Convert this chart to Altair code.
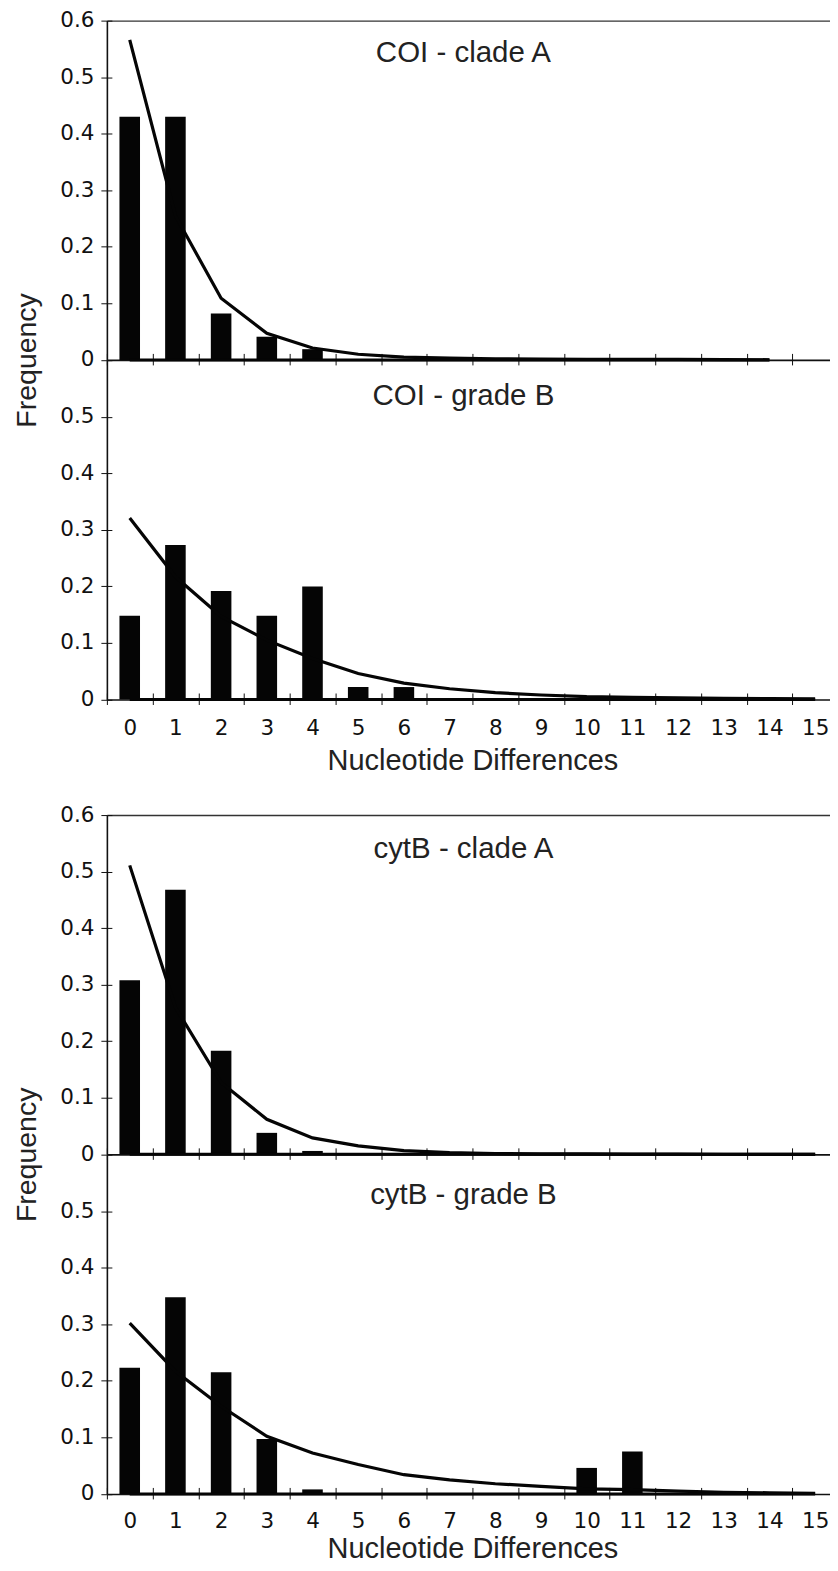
import altair as alt
import pandas as pd

cats = list(range(16))

coiA_obs = [0.43, 0.43, 0.082, 0.041, 0.019, 0, 0, 0, 0, 0, 0, 0, 0, 0, 0, 0]
coiA_exp = [0.566, 0.255, 0.109, 0.047, 0.021, 0.010, 0.005, 0.003, 0.002,
            0.0015, 0.001, 0.001, 0.0008, 0.0005, 0.0003]
coiB_obs = [0.148, 0.273, 0.192, 0.148, 0.200, 0.022, 0.022, 0, 0, 0, 0, 0, 0, 0, 0, 0]
coiB_exp = [0.321, 0.217, 0.147, 0.105, 0.0725, 0.046, 0.029, 0.019, 0.012,
            0.008, 0.005, 0.004, 0.003, 0.002, 0.0015, 0.001]
cytA_obs = [0.308, 0.468, 0.183, 0.038, 0.006, 0, 0, 0, 0, 0, 0, 0, 0, 0, 0, 0]
cytA_exp = [0.511, 0.26, 0.127, 0.062, 0.029, 0.015, 0.0065, 0.003, 0.0015,
            0.001, 0.0007, 0.0005, 0.0003, 0.0002, 0.0001, 0.0001]
cytB_obs = [0.223, 0.348, 0.215, 0.097, 0.008, 0, 0, 0, 0, 0, 0.046, 0.075, 0, 0, 0, 0]
cytB_exp = [0.302, 0.217, 0.155, 0.102, 0.0725, 0.052, 0.034, 0.025, 0.018,
            0.0135, 0.009, 0.0075, 0.005, 0.003, 0.002, 0.001]

titles = ["COI - clade A", "COI - grade B", "cytB - clade A", "cytB - grade B"]
x_title = "Nucleotide Differences"
y_title = "Frequency"

W = 732
H = 339.7
TITLE_FONT = "Liberation Sans"
LABEL_FONT = "DejaVu Sans"
INK = "#111111"


def panel(obs, exp, title, title_y, top, bottom, lab_pad=13, tit_pad=7.6):
    bars_df = pd.DataFrame({"n": cats, "f": obs})
    line_df = pd.DataFrame({"n": cats[:len(exp)], "e": exp})
    xs = alt.Scale(type="band", domain=cats, paddingInner=0, paddingOuter=0)
    ys = alt.Scale(domain=[0, 0.6], nice=False, zero=True)
    yvals = [0, 0.1, 0.2, 0.3, 0.4, 0.5, 0.6] if top else [0, 0.1, 0.2, 0.3, 0.4, 0.5]

    x_axis_a = alt.Axis(
        orient="bottom", tickBand="extent", tickSize=5, tickColor=INK, tickWidth=1,
        domain=True, domainColor=INK, domainWidth=1.6, grid=False,
        labels=bottom, labelAngle=0, labelFont=LABEL_FONT, labelFontSize=21.5,
        labelColor=INK, labelPadding=lab_pad,
        titleFont=TITLE_FONT, titleFontSize=29, titleFontWeight="normal",
        titleColor="#222222", titlePadding=tit_pad,
    )
    y_axis_a_kw = dict(
        orient="left", values=yvals, format=".1~f", tickSize=6, tickColor=INK,
        tickWidth=1, domain=True, domainColor=INK, domainWidth=1.6, grid=False,
        labelFont=LABEL_FONT, labelFontSize=21.5, labelColor=INK, labelPadding=7,
    )
    if top:
        y_axis_a_kw.update(
            titleFont=TITLE_FONT, titleFontSize=28.5, titleFontWeight="normal",
            titleColor="#222222", titleAngle=270, titleX=-71, titleY=H,
            titleAlign="center", titleBaseline="alphabetic",
        )
    y_axis_a = alt.Axis(**y_axis_a_kw)

    bars = alt.Chart(bars_df).mark_bar(
        color="#050505", width=alt.RelativeBandSize(0.45)
    ).encode(
        x=alt.X("n:O", scale=xs, axis=x_axis_a, title=x_title if bottom else None),
        y=alt.Y("f:Q", scale=ys, axis=y_axis_a, title=y_title if top else None),
    )

    x_axis_b = alt.Axis(
        orient="top", offset=-H, tickBand="extent", tickSize=6.5, tickColor=INK,
        tickWidth=1, domain=False, labels=False, grid=False,
    )
    y_axis_b = alt.Axis(
        orient="right", offset=-W, values=yvals, tickSize=5, tickColor=INK,
        tickWidth=1, domain=False, labels=False, grid=False,
    )
    line = alt.Chart(line_df).mark_line(color="#050505", strokeWidth=3.2).encode(
        x=alt.X("n:O", scale=xs, axis=x_axis_b, title=None),
        y=alt.Y("e:Q", scale=ys, axis=y_axis_b, title=None),
    )

    if top:
        x_axis_c = alt.Axis(orient="top", domain=True, domainColor="#333333",
                            domainWidth=1.4, ticks=False, labels=False, grid=False)
        zx = alt.X("n:O", scale=xs, axis=x_axis_c, title=None)
    else:
        zx = alt.X("n:O", scale=xs, axis=None, title=None)
    zero = alt.Chart(line_df).transform_calculate(z="0").mark_line(
        color="#050505", strokeWidth=3
    ).encode(
        x=zx,
        y=alt.Y("z:Q", scale=ys, axis=None, title=None),
    )

    label = alt.Chart(pd.DataFrame({"t": [title]})).mark_text(
        font=TITLE_FONT, fontSize=29.5, color="#222222", align="center",
        baseline="alphabetic",
    ).encode(x=alt.value(357), y=alt.value(title_y), text="t:N")

    return alt.layer(bars, line, zero, label).resolve_axis(
        x="independent", y="independent"
    ).properties(width=W, height=H)


p1 = panel(coiA_obs, coiA_exp, titles[0], 41, True, False)
p2 = panel(coiB_obs, coiB_exp, titles[1], 45, False, True, 13, 7.6)
p3 = panel(cytA_obs, cytA_exp, titles[2], 43, True, False)
p4 = panel(cytB_obs, cytB_exp, titles[3], 49, False, True, 12, 2.5)

g1 = alt.vconcat(p1, p2, spacing=0, bounds="flush")
g2 = alt.vconcat(p3, p4, spacing=0, bounds="flush")

chart = alt.vconcat(g1, g2, spacing=28.4).properties(
    padding={"left": 5, "top": 0.7, "right": -9, "bottom": -5},
    background="white",
).configure_view(strokeWidth=0)

chart.save("out.html", embed_options={"renderer": "svg", "actions": False})
